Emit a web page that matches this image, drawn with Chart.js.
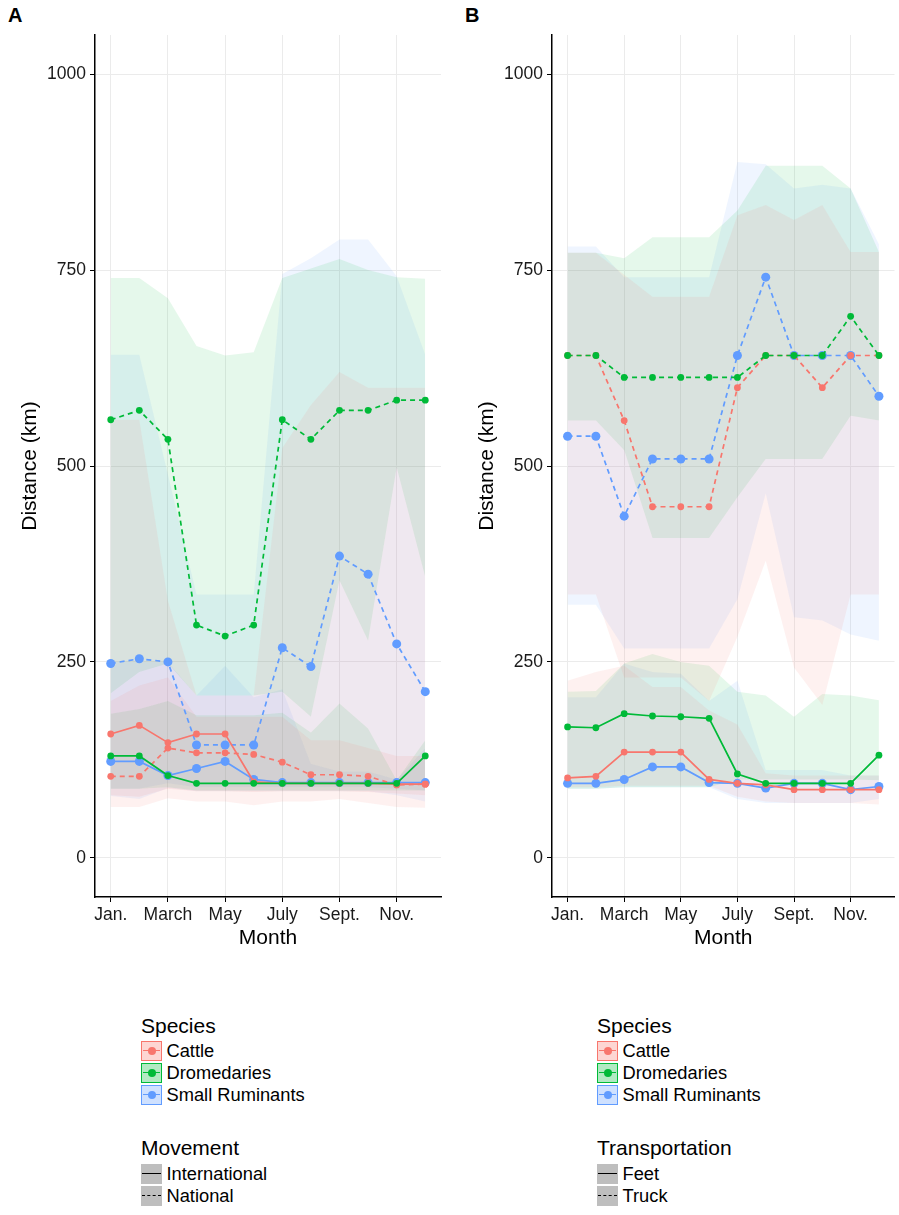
<!DOCTYPE html>
<html><head><meta charset="utf-8">
<script src="https://cdn.jsdelivr.net/npm/chart.js@4.4.0/dist/chart.umd.min.js"></script>
<style>
body{margin:0;background:#fff;width:899px;height:1215px;position:relative;overflow:hidden;font-family:"Liberation Sans",Arial,sans-serif;color:#000;}
canvas{position:absolute;top:0;}
.tag{position:absolute;font-weight:bold;font-size:20px;line-height:20px;}
.ltitle{position:absolute;font-size:21px;line-height:24px;white-space:nowrap;}
.ltext{position:absolute;font-size:18.3px;line-height:22px;white-space:nowrap;}
.key{position:absolute;width:21px;height:20px;box-sizing:border-box;}
.kline{position:absolute;left:1px;right:1px;top:50%;height:0;margin-top:-1px;}
.kdot{position:absolute;width:8px;height:8px;border-radius:50%;left:50%;top:50%;margin-left:-4px;margin-top:-4px;}
</style>
</head><body>
<div class="tag" style="left:8px;top:5px">A</div>
<div class="tag" style="left:465px;top:5px">B</div>
<canvas id="cA" width="450" height="960" style="left:0px"></canvas>
<canvas id="cB" width="444" height="960" style="left:455px"></canvas>
<div id="legA"></div><div id="legB"></div>
<script>
// ---------- data ----------
const months = [1,2,3,4,5,6,7,8,9,10,11,12];
const tickMonths = [1,3,5,7,9,11];
const tickLabels = ["Jan.","March","May","July","Sept.","Nov."];
const yTicks = [0,250,500,750,1000];
const speciesNames = ["Cattle","Dromedaries","Small Ruminants"];
const movementNames = ["International","National"];
const transportNames = ["Feet","Truck"];

// Panel A (Movement)
const aCattleIntl   = [158,169,147,158,158,97,95,95,95,95,94,94];
const aCattleNat    = [104,104,140,134,134,132,122,106,106,104,93,94];
const aDromIntl     = [130,130,105,95,95,95,95,95,95,95,95,130];
const aDromNat      = [559,571,534,297,283,297,559,534,571,571,584,584];
const aSRIntl       = [123,123,105,114,123,100,96,96,96,96,96,96];
const aSRNat        = [248,254,250,144,144,144,268,244,385,362,273,212];
const aCattleIntlLo = [65,65,76,72,72,67,72,72,75,70,65,64];
const aCattleIntlHi = [200,220,230,180,180,180,180,150,150,140,130,130];
const aCattleNatLo  = [80,78,88,85,85,84,85,85,85,84,82,80];
const aCattleNatHi  = [559,559,328,207,207,207,523,578,620,600,600,600];
const aDromIntlLo   = [88,88,90,86,86,86,86,86,86,86,86,86];
const aDromIntlHi   = [184,190,200,182,182,182,185,160,197,165,99,150];
const aDromNatLo    = [210,237,248,207,207,207,212,180,354,277,498,358];
const aDromNatHi    = [740,740,714,653,641,645,740,752,764,750,741,739];
const aSRIntlLo     = [79,75,89,85,85,85,85,85,85,85,80,72];
const aSRIntlHi     = [250,250,250,207,245,205,215,120,110,110,100,140];
const aSRNatLo      = [88,88,95,90,90,90,90,90,90,90,88,86];
const aSRNatHi      = [642,642,489,336,336,336,745,765,789,789,742,642];

// Panel B (Transportation)
const bCattleFeet   = [102,104,135,135,135,100,95,93,87,87,87,87];
const bCattleTruck  = [641,641,558,448,448,448,600,641,641,600,641,641];
const bDromFeet     = [167,166,184,181,180,178,107,95,95,95,95,131];
const bDromTruck    = [641,641,613,613,613,613,613,641,641,641,691,641];
const bSRFeet       = [95,95,100,116,116,96,95,89,95,95,87,91];
const bSRTruck      = [538,538,436,509,509,509,641,741,641,641,641,589];
const bCattleFeetLo = [90,90,92,92,92,92,78,72,70,70,70,68];
const bCattleFeetHi = [226,237,245,218,218,188,170,108,105,105,105,105];
const bCattleTruckLo= [336,336,230,230,230,200,282,379,243,195,336,336];
const bCattleTruckHi= [772,772,744,716,716,716,820,833,814,833,773,773];
const bDromFeetLo   = [88,88,90,90,90,90,100,100,100,100,100,99];
const bDromFeetHi   = [212,213,248,260,250,245,212,207,180,209,207,201];
const bDromTruckLo  = [558,558,520,408,408,408,460,509,509,509,564,558];
const bDromTruckHi  = [772,772,765,792,792,792,826,883,883,883,854,773];
const bSRFeetLo     = [88,88,90,90,90,90,75,70,70,70,70,75];
const bSRFeetHi     = [205,205,248,237,235,200,226,112,112,112,105,105];
const bSRTruckLo    = [323,323,267,267,267,267,330,465,307,303,285,277];
const bSRTruckHi    = [780,780,741,741,741,741,888,885,854,859,854,783];

// ---------- styling ----------
const RED='#F8766D', GREEN='#00BA38', BLUE='#619CFF';
const FAM='"Liberation Sans", Arial, sans-serif';
function rgba(hex,a){const n=parseInt(hex.slice(1),16);return `rgba(${n>>16},${(n>>8)&255},${n&255},${a})`;}
function pts(arr){return months.map((m,i)=>({x:m,y:arr[i]}));}

function buildDatasets(series){
  const ds=[];
  series.forEach(s=>{
    const idx=ds.length;
    ds.push({data:pts(s.hi),borderColor:'rgba(0,0,0,0)',borderWidth:0,pointRadius:0,
      fill:{target:idx+1},backgroundColor:rgba(s.color,0.1),order:10});
    ds.push({data:pts(s.lo),borderColor:'rgba(0,0,0,0)',borderWidth:0,pointRadius:0,fill:false,order:10});
  });
  series.forEach(s=>{
    ds.push({data:pts(s.line),borderColor:s.color,backgroundColor:s.color,borderWidth:1.7,
      borderDash:s.dash?[5,4]:[],pointRadius:s.r,pointBorderWidth:0,pointBackgroundColor:s.color,
      fill:false,order:s.order});
  });
  return ds;
}

function makeChart(id,series,yWidth,padRight,titlePad){
  new Chart(document.getElementById(id),{
    type:'line',
    data:{datasets:buildDatasets(series)},
    options:{
      responsive:false,animation:false,devicePixelRatio:1,
      layout:{padding:{top:35,right:padRight,left:0,bottom:0}},
      plugins:{legend:{display:false},tooltip:{enabled:false}},
      elements:{line:{tension:0}},
      scales:{
        x:{type:'linear',min:0.45,max:12.55,
          afterBuildTicks:s=>{s.ticks=tickMonths.map(v=>({value:v}));},
          afterFit:s=>{s.height=63;},
          ticks:{callback:(v,i)=>tickLabels[i],color:'#1a1a1a',font:{size:17.5,family:FAM},padding:3,maxRotation:0,autoSkip:false},
          grid:{color:'#ebebeb',lineWidth:1,tickColor:'#000',tickLength:5},
          border:{color:'#000',width:1.5},
          title:{display:true,text:'Month',color:'#000',font:{size:21,family:FAM},padding:{top:0,bottom:9}}
        },
        y:{type:'linear',min:-50,max:1050,
          afterBuildTicks:s=>{s.ticks=yTicks.map(v=>({value:v}));},
          afterFit:s=>{s.width=yWidth;},
          ticks:{callback:v=>String(v),color:'#1a1a1a',font:{size:17.5,family:FAM},padding:4},
          grid:{color:'#ebebeb',lineWidth:1,tickColor:'#000',tickLength:5},
          border:{color:'#000',width:1.5},
          title:{display:true,text:'Distance (km)',color:'#000',font:{size:21,family:FAM},padding:{top:titlePad,bottom:0}}
        }
      }
    }
  });
}

makeChart('cA',[
  {line:aCattleIntl,lo:aCattleIntlLo,hi:aCattleIntlHi,color:RED,dash:false,r:3.4,order:2},
  {line:aCattleNat,lo:aCattleNatLo,hi:aCattleNatHi,color:RED,dash:true,r:3.4,order:2},
  {line:aDromIntl,lo:aDromIntlLo,hi:aDromIntlHi,color:GREEN,dash:false,r:3.4,order:1},
  {line:aDromNat,lo:aDromNatLo,hi:aDromNatHi,color:GREEN,dash:true,r:3.4,order:1},
  {line:aSRIntl,lo:aSRIntlLo,hi:aSRIntlHi,color:BLUE,dash:false,r:4.5,order:3},
  {line:aSRNat,lo:aSRNatLo,hi:aSRNatHi,color:BLUE,dash:true,r:4.5,order:3}
],95,9,17.6);

makeChart('cB',[
  {line:bCattleFeet,lo:bCattleFeetLo,hi:bCattleFeetHi,color:RED,dash:false,r:3.4,order:2},
  {line:bCattleTruck,lo:bCattleTruckLo,hi:bCattleTruckHi,color:RED,dash:true,r:3.4,order:2},
  {line:bDromFeet,lo:bDromFeetLo,hi:bDromFeetHi,color:GREEN,dash:false,r:3.4,order:1},
  {line:bDromTruck,lo:bDromTruckLo,hi:bDromTruckHi,color:GREEN,dash:true,r:3.4,order:1},
  {line:bSRFeet,lo:bSRFeetLo,hi:bSRFeetHi,color:BLUE,dash:false,r:4.5,order:3},
  {line:bSRTruck,lo:bSRTruckLo,hi:bSRTruckHi,color:BLUE,dash:true,r:4.5,order:3}
],97,2,19.6);

// ---------- legends ----------
function buildLegend(containerId,left,title2,names2){
  const c=document.getElementById(containerId);
  const colors=[RED,GREEN,BLUE];
  let html='';
  html+=`<div class="ltitle" style="left:${left}px;top:${1014}px">Species</div>`;
  speciesNames.forEach((n,i)=>{
    const cy=1050.7+i*22.2;
    html+=`<div class="key" style="left:${left}px;top:${cy-10}px;border:1.5px solid ${colors[i]};background:${rgba(colors[i],0.3)}">
      <div class="kline" style="border-top:1.5px solid ${colors[i]}"></div>
      <div class="kdot" style="background:${colors[i]}"></div></div>`;
    html+=`<div class="ltext" style="left:${left+25.5}px;top:${cy-11}px">${n}</div>`;
  });
  html+=`<div class="ltitle" style="left:${left}px;top:${1136}px">${title2}</div>`;
  names2.forEach((n,i)=>{
    const cy=1174+i*21.8;
    html+=`<div class="key" style="left:${left}px;top:${cy-10}px;background:#bebebe">
      <div class="kline" style="left:1px;right:1px;border-top:1.6px ${i===0?'solid':'dashed'} #000"></div></div>`;
    html+=`<div class="ltext" style="left:${left+25.5}px;top:${cy-11}px">${n}</div>`;
  });
  c.innerHTML=html;
}
buildLegend('legA',141,'Movement',movementNames);
buildLegend('legB',597,'Transportation',transportNames);
</script>
</body></html>
